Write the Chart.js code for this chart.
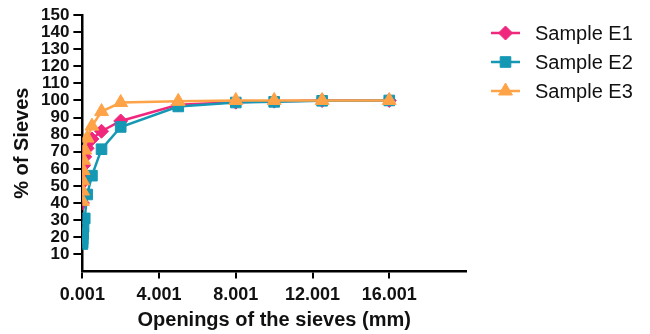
<!DOCTYPE html>
<html>
<head>
<meta charset="utf-8">
<script src="https://cdn.jsdelivr.net/npm/chart.js@4/dist/chart.umd.min.js"></script>
<style>
  html, body { margin: 0; padding: 0; background: #fff; }
  #wrap { width: 650px; height: 334px; position: relative; }
</style>
</head>
<body>
<div id="wrap"><canvas id="chart"></canvas></div>
<script>
// sieve openings (mm)
var openings = [16, 12.5, 10, 8, 5, 2, 1, 0.5, 0.25, 0.125, 0.063, 0.04, 0.02, 0.01, 0.005];
var sampleE1 = [100, 100, 99.6, 99, 97.5, 88, 82, 77.5, 72, 67, 62, 57, 52, 46, 40];
var sampleE2 = [100, 99.8, 99.2, 98.8, 96.5, 84.5, 71.5, 56, 45, 31, 26, 22, 19, 17, 16];
var sampleE3 = [100, 100, 100, 100, 99.5, 98.8, 93.5, 85, 78, 71, 65, 59, 53, 47, 41];
var seriesNames = ['Sample E1', 'Sample E2', 'Sample E3'];
var xTicks = [0.001, 4.001, 8.001, 12.001, 16.001];
var yTicks = [10, 20, 30, 40, 50, 60, 70, 80, 90, 100, 110, 120, 130, 140, 150];

var FONT = '"Liberation Sans", Arial, Helvetica, sans-serif';

function points(ys) {
  return openings.map(function (x, i) { return { x: x, y: ys[i] }; });
}

function series(label, ys, color, style, radius, order) {
  return {
    label: label,
    data: points(ys),
    borderColor: color,
    backgroundColor: color,
    borderWidth: 2.5,
    pointStyle: style,
    pointRadius: radius,
    pointBorderWidth: 1,
    pointBackgroundColor: color,
    pointBorderColor: color,
    fill: false,
    tension: 0,
    order: order
  };
}

// legend drawn as line + marker, like the original
var sideLegend = {
  id: 'sideLegend',
  afterDraw: function (chart) {
    var ctx = chart.ctx;
    var x0 = chart.chartArea.right + 25;
    chart.data.datasets.forEach(function (ds, i) {
      var y = 33 + i * 29;
      ctx.save();
      ctx.strokeStyle = ds.borderColor;
      ctx.lineWidth = 2.5;
      ctx.beginPath();
      ctx.moveTo(x0, y);
      ctx.lineTo(x0 + 29, y);
      ctx.stroke();
      ctx.fillStyle = ds.borderColor;
      ctx.lineWidth = 1;
      Chart.helpers.drawPoint(ctx, {
        pointStyle: ds.pointStyle,
        radius: ds.pointRadius,
        rotation: 0,
        borderWidth: 1
      }, x0 + 14.5, y);
      ctx.fillStyle = '#111';
      ctx.font = '20px ' + FONT;
      ctx.textBaseline = 'middle';
      ctx.textAlign = 'left';
      ctx.fillText(ds.label, x0 + 44, y + 1);
      ctx.restore();
    });
  }
};

new Chart(document.getElementById('chart'), {
  type: 'line',
  data: {
    datasets: [
      series(seriesNames[0], sampleE1, '#F0287D', 'rectRot', 7, 3),
      series(seriesNames[1], sampleE2, '#1598B4', 'rect', 7.5, 2),
      series(seriesNames[2], sampleE3, '#FFA348', 'triangle', 8, 1)
    ]
  },
  options: {
    responsive: true,
    maintainAspectRatio: false,
    animation: false,
    layout: { padding: { left: 10, right: 184, top: 15, bottom: 2 } },
    plugins: {
      legend: { display: false },
      tooltip: { enabled: false }
    },
    scales: {
      x: {
        type: 'linear',
        min: 0.001,
        max: 20.001,
        afterBuildTicks: function (scale) {
          scale.ticks = xTicks.map(function (v) { return { value: v }; });
        },
        ticks: {
          autoSkip: false,
          maxRotation: 0,
          padding: 6,
          color: '#111',
          font: { family: FONT, size: 18, weight: 'bold' },
          callback: function (v) { return String(v); }
        },
        grid: { drawOnChartArea: false, drawTicks: true, tickLength: 7, color: '#000', lineWidth: 2 },
        border: { display: true, color: '#000', width: 2.5 },
        title: {
          display: true,
          text: 'Openings of the sieves (mm)',
          color: '#111',
          font: { family: FONT, size: 20, weight: 'bold' },
          padding: { top: -4, bottom: 0 }
        }
      },
      y: {
        type: 'linear',
        min: 0,
        max: 150,
        afterBuildTicks: function (scale) {
          scale.ticks = yTicks.map(function (v) { return { value: v }; });
        },
        ticks: {
          autoSkip: false,
          padding: 4,
          color: '#111',
          font: { family: FONT, size: 17, weight: 'bold', lineHeight: 1 },
          callback: function (v) { return String(v); }
        },
        grid: { drawOnChartArea: false, drawTicks: true, tickLength: 9, color: '#000', lineWidth: 2 },
        border: { display: true, color: '#000', width: 2.5 },
        title: {
          display: true,
          text: '% of Sieves',
          color: '#111',
          font: { family: FONT, size: 20, weight: 'bold' },
          padding: { top: 0, bottom: 3 }
        }
      }
    }
  },
  plugins: [sideLegend]
});
</script>
</body>
</html>
